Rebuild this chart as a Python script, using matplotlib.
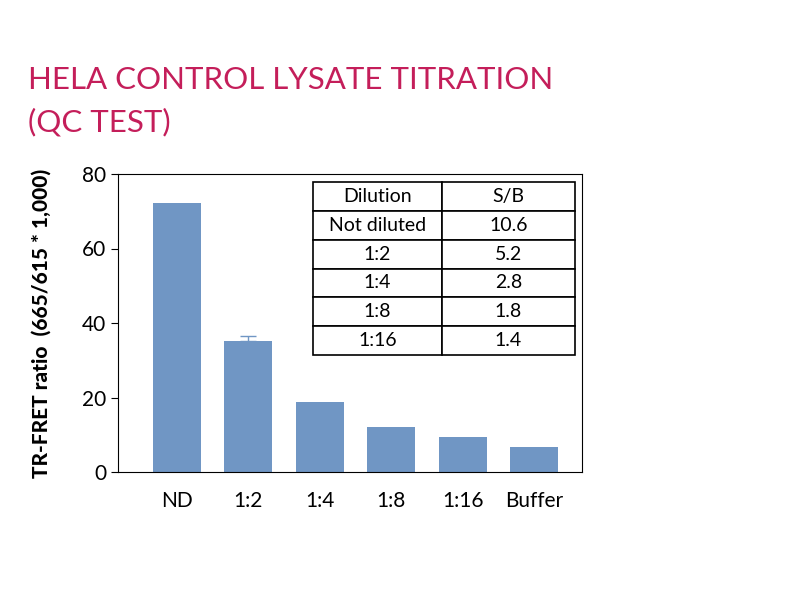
import matplotlib
matplotlib.use("Agg")
import matplotlib.pyplot as plt

categories = ["ND", "1:2", "1:4", "1:8", "1:16", "Buffer"]
values = [72.2, 35.2, 18.8, 12.1, 9.4, 6.7]
errors = [0, 1.3, 0, 0, 0, 0]
table_header = ["Dilution", "S/B"]
table_dilution = ["Not diluted", "1:2", "1:4", "1:8", "1:16"]
table_sb = ["10.6", "5.2", "2.8", "1.8", "1.4"]

plt.rcParams["font.family"] = "Lato"
fig = plt.figure(figsize=(8, 6), dpi=100)
ax = fig.add_axes([118/800, 1-472/600, 464/800, 298/600])
x = list(range(len(categories)))
ax.bar(x, values, width=0.67, color="#7096c4", zorder=2)
for xi, v, e in zip(x, values, errors):
    if e:
        ax.errorbar(xi, v, yerr=[[0], [e]], color="#7096c4", capsize=6, lw=1, zorder=3)
ax.set_xlim(-0.825, 5.67)
ax.set_ylim(0, 80)
ax.set_yticks([0, 20, 40, 60, 80])
ax.set_xticks(x)
ax.set_xticklabels(categories)
ax.tick_params(labelsize=15, length=5)
ax.tick_params(axis="x", length=0, pad=14)
ax.set_ylabel("TR-FRET ratio  (665/615 * 1,000)", fontsize=15, fontweight="heavy", labelpad=22)

fig.text(28/800, 1-80/600, "HELA CONTROL LYSATE TITRATION", color="#c41e5a",
         fontsize=22.5, fontweight="normal", va="center")
fig.text(28/800, 1-122/600, "(QC TEST)", color="#c41e5a",
         fontsize=22.5, fontweight="normal", va="center")

cells = [[d, s] for d, s in zip(table_dilution, table_sb)]
tab = ax.table(cellText=[table_header] + cells, cellLoc="center",
               bbox=[(313-118)/464, (472-355)/298, (575-313)/464, (355-182)/298],
               colWidths=[129, 133])
tab.auto_set_font_size(False)
tab.set_fontsize(14)
for c in tab.get_celld().values():
    c.set_linewidth(1.2)
    c.set_facecolor("white")
fig.savefig("out.png", dpi=100)
